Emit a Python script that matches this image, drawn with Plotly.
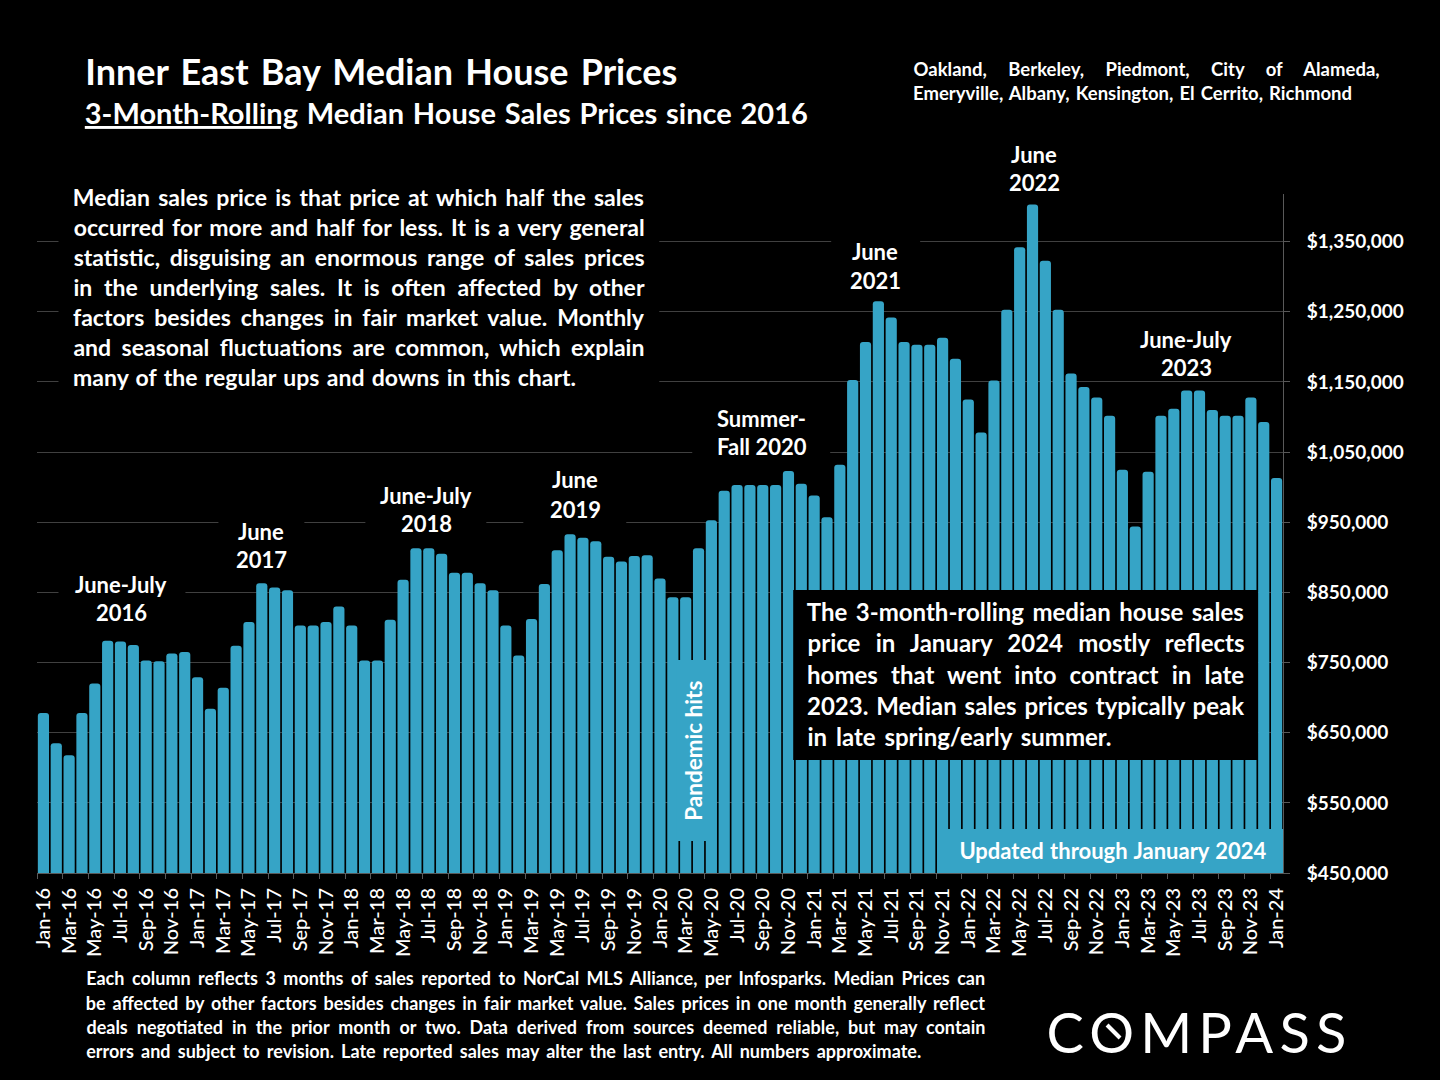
import json
import plotly.graph_objects as go

months = ["Jan","Feb","Mar","Apr","May","Jun","Jul","Aug","Sep","Oct","Nov","Dec"]
categories = [f"{m}-{y}" for y in range(16, 24) for m in months] + ["Jan-24"]
prices = [
 678000,635000,618000,678000,720000,781000,780000,775000,753000,752000,763000,765000,
 729000,684000,714000,774000,808000,863000,857000,853000,803000,803000,808000,830000,
 803000,753000,753000,811000,868000,913000,913000,905000,878000,878000,863000,853000,
 803000,760000,812000,862000,910000,933000,928000,923000,901000,894000,902000,903000,
 870000,843000,843000,913000,953000,995000,1003000,1003000,1003000,1003000,1023000,1005000,
 988000,957000,1032000,1153000,1207000,1265000,1242000,1207000,1203000,1203000,1213000,1183000,
 1125000,1078000,1152000,1253000,1342000,1403000,1323000,1253000,1162000,1143000,1128000,1102000,
 1025000,944000,1022000,1102000,1112000,1138000,1138000,1110000,1102000,1102000,1128000,1093000,
 1013000]
y_ticks = [450000 + 100000*i for i in range(10)]

FONT = "Lato"
BLUE = "#36A4C6"
L, R, T, B = 36.5, 1283, 194, 873
Y0, Y1 = 450000, 1418000
fx = lambda p: (p - L) / (R - L)
fy = lambda p: (B - p) / (B - T)
dx = lambda p: fx(p) * 97 - 0.5
dy = lambda p: Y0 + fy(p) * (Y1 - Y0)

title_lines = [
 ("Inner East Bay Median House Prices", 85, 677, 71, 36),
 ("<u>3-Month-Rolling</u> Median House Sales Prices since 2016", 85, 808, 113, 29),
]
area_lines = [
 ("Oakland, Berkeley, Piedmont, City of Alameda,", 913, 1379, 69.5),
 ("Emeryville, Albany, Kensington, El Cerrito, Richmond", 913, 1352, 92.5),
]
para_lines = [
 ("Median sales price is that price at which half the sales", 73, 644, 197),
 ("occurred for more and half for less. It is a very general", 73, 644, 227),
 ("statistic, disguising an enormous range of sales prices", 73, 644, 257),
 ("in the underlying sales. It is often affected by other", 73, 644, 287),
 ("factors besides changes in fair market value. Monthly", 73, 644, 317),
 ("and seasonal fluctuations are common, which explain", 73, 644, 347),
 ("many of the regular ups and downs in this chart.", 73, 576, 377),
]
box_lines = [
 ("The 3-month-rolling median house sales", 807, 1244, 611),
 ("price in January 2024 mostly reflects", 807, 1244, 642),
 ("homes that went into contract in late", 807, 1244, 674),
 ("2023. Median sales prices typically peak", 807, 1244, 705),
 ("in late spring/early summer.", 807, 1111, 736),
]
foot_lines = [
 ("Each column reflects 3 months of sales reported to NorCal MLS Alliance, per Infosparks. Median Prices can", 86, 985, 978.5),
 ("be affected by other factors besides changes in fair market value. Sales prices in one month generally reflect", 86, 985, 1002.5),
 ("deals negotiated in the prior month or two. Data derived from sources deemed reliable, but may contain", 86, 985, 1026.5),
 ("errors and subject to revision. Late reported sales may alter the last entry. All numbers approximate.", 86, 921, 1050.5),
]
peak_labels = [
 ("June-July", 121, 584), ("2016", 121, 612),
 ("June", 261, 531), ("2017", 261, 559),
 ("June-July", 426, 495), ("2018", 426, 523),
 ("June", 575, 480), ("2019", 575, 509),
 ("Summer-", 761, 418), ("Fall 2020", 762, 446),
 ("June", 875, 251), ("2021", 875, 280),
 ("June", 1034, 154), ("2022", 1034, 182),
 ("June-July", 1186, 339), ("2023", 1186, 367),
]

fig = go.Figure(go.Bar(x=categories, y=prices, marker=dict(color=BLUE, line=dict(width=0))))

targets = {}
annotations = []
def add(text, x0, x1, yc, size, color="white", weight=700):
    annotations.append(dict(text=text, x=fx((x0+x1)/2), y=fy(yc), xref="paper", yref="paper",
        xanchor="center", yanchor="middle", showarrow=False,
        font=dict(family=FONT, size=size, color=color, weight=weight)))
    targets[text.replace("<u>", "").replace("</u>", "")] = x1 - x0

for t, a, b, y, s in title_lines: add(t, a, b, y, s)
for t, a, b, y in area_lines: add(t, a, b, y, 18.5)
for t, a, b, y in para_lines: add(t, a, b, y, 23)
for t, a, b, y in box_lines: add(t, a, b, y, 24)
for t, a, b, y in foot_lines: add(t, a, b, y, 18)
for t, x, y in peak_labels:
    annotations.append(dict(text=t, x=fx(x), y=fy(y), xref="paper", yref="paper", xanchor="center",
        yanchor="middle", showarrow=False, font=dict(family=FONT, size=22, color="white", weight=700)))
annotations.append(dict(text="Pandemic hits", x=fx(692.5), y=fy(751), xref="paper", yref="paper",
    textangle=-90, showarrow=False, xanchor="center", yanchor="middle",
    font=dict(family=FONT, size=22.5, color="white", weight=700)))
add("Updated through January 2024", 959, 1266, 850, 22)
add("COMPASS", 1049, 1349, 1031, 56, weight=400)
targets["COMPASS"] = -300  # negative: fit by letter spacing

black_boxes = [(58, 180, 659, 402), (58, 572, 185, 628), (218, 510, 304, 572),
               (365, 484, 486, 536), (523, 470, 626, 528), (692, 405, 830, 460),
               (831, 235, 920, 292)]
shapes = [dict(type="rect", xref="x", yref="y", layer="between",
               x0=dx(a), x1=dx(c), y0=dy(d), y1=dy(b), fillcolor="black", line_width=0)
          for a, b, c, d in black_boxes]
upper_boxes = [((793, 590, 1258, 760), "black"), ((676, 660, 714, 841), BLUE), ((937, 829, 1283, 873), BLUE)]
for (a, b, c, d), col in upper_boxes:
    shapes.append(dict(type="rect", xref="paper", yref="paper", layer="above",
                       x0=fx(a), x1=fx(c), y0=fy(d), y1=fy(b), fillcolor=col, line_width=0))
shapes.append(dict(type="line", xref="paper", yref="paper", layer="above",
                   x0=fx(1107), x1=fx(1120), y0=fy(1025), y1=fy(1038), line=dict(color="white", width=4)))

fig.update_layout(
    width=1440, height=1080, paper_bgcolor="black", plot_bgcolor="black",
    margin=dict(l=L, r=1440-R, t=T, b=1080-B, pad=0),
    showlegend=False, bargap=0.13, barcornerradius=3,
    annotations=annotations, shapes=shapes,
    font=dict(family=FONT, color="white"),
    xaxis=dict(type="category", categoryorder="array", categoryarray=categories,
               range=[-0.5, 96.5], tick0=0, dtick=2, tickson="boundaries",
               ticks="outside", ticklen=5, tickcolor="#595959", showgrid=False,
               showline=True, linecolor="#595959", tickangle=-90, zeroline=False,
               ticklabelstandoff=6,
               tickfont=dict(family=FONT, size=20, color="white", weight=500)),
    yaxis=dict(side="right", range=[Y0, Y1], tickvals=y_ticks, tickformat="$,.0f",
               ticks="outside", ticklen=6, tickcolor="#595959", showline=True, linecolor="#595959",
               gridcolor="#404040", gridwidth=1, zeroline=False, ticklabelstandoff=13,
               tickfont=dict(family=FONT, size=19, color="white", weight=700)),
)

post = """
document.body.style.margin='0';document.body.style.overflow='hidden';
var T=%s;
document.querySelectorAll('.annotation-text').forEach(function(t){
  var w=T[t.textContent]; if(w===undefined) return;
  var n=t.textContent.split(' ').length-1, c=t.getComputedTextLength();
  if(w<0){t.style.letterSpacing=((-w-c)/(t.textContent.length-1))+'px';return;}
  if(n>0) t.style.wordSpacing=((w-c)/n)+'px';
});
""" % json.dumps(targets)
fig.write_html("out.html", post_script=post, config=dict(displayModeBar=False))
